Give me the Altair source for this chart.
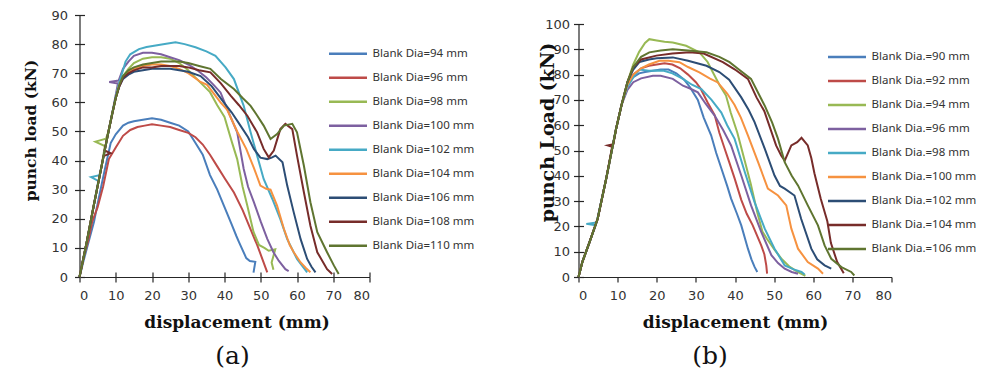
import altair as alt
import pandas as pd

# ---------------- panel (a) ----------------
LABELS_A = ["Blank Dia=94 mm", "Blank Dia=96 mm", "Blank Dia=98 mm", "Blank Dia=100 mm",
            "Blank Dia=102 mm", "Blank Dia=104 mm", "Blank Dia=106 mm", "Blank Dia=108 mm",
            "Blank Dia=110 mm"]
COLORS = ["#4A7EBB", "#BE4B48", "#98B954", "#7D60A0", "#46AAC5", "#F69240", "#2C4D75", "#772C2A", "#5F7530"]

A94_X = [0, 1, 2.5, 4, 5.3, 7, 8.6, 10, 12, 13.5, 15, 17.5, 20, 22.5, 25, 27.5, 30, 32, 34, 36, 38, 40, 42, 43.3, 44, 46, 47, 48.5, 48]
A94_Y = [0, 5, 12, 19, 27, 37, 46, 49, 52, 53, 53.5, 54, 54.5, 54, 53, 52, 50, 46, 42, 35, 30, 24, 18, 14, 12, 6.5, 5.5, 5.2, 1.5]
A96_X = [0, 1.2, 2.5, 3.5, 5, 6.5, 8.1, 10, 12, 14, 16, 18, 20, 22.5, 25, 27.5, 30, 32, 34, 36, 38, 40, 42.6, 45, 47, 49, 50.5, 51.8]
A96_Y = [0, 7, 13, 19, 24, 31, 40.5, 44.5, 48.5, 50.5, 51.5, 52, 52.5, 52, 51.5, 50.5, 49.5, 48, 45.5, 42, 38, 34, 29, 23, 17, 11, 6, 1.6]
A98_X = [0, 2, 4, 6, 7, 4.4, 7.3, 8, 9, 10, 11, 12, 13.5, 15, 17.5, 20, 22.5, 25, 27.5, 30, 32, 34, 36, 38, 40, 42, 43.5, 45, 46.3, 48, 49.5, 51, 52.2, 54, 53, 53.5]
A98_Y = [0, 12, 25, 37.5, 45, 46.5, 47.5, 50, 56, 61.5, 66, 69, 71.5, 73.5, 75, 75.5, 75.5, 75, 73.5, 71, 68.5, 66, 63.5, 59, 55, 46.5, 40.5, 31, 24.5, 15.5, 11, 10, 9, 9.5, 5, 2.5]
A100_X = [0, 2, 4, 6, 8, 9, 10.6, 8.2, 10.8, 12, 13.5, 15, 17.5, 20, 22.5, 25, 27.5, 30, 32.5, 35, 37, 38.9, 41, 43.5, 45.3, 46.5, 48.1, 50, 51.8, 53.5, 55, 56.8, 57.7]
A100_Y = [0, 12, 25, 37.5, 50, 56, 66.5, 67, 67.5, 71.5, 74, 76, 77, 77, 76.5, 75.5, 74.5, 73, 71, 68.5, 66, 63.4, 57, 49.7, 37.1, 31, 25.7, 19, 13.1, 8.5, 5.5, 2.7, 2]
A102_X = [0, 2, 4, 5.2, 3.2, 5.5, 6, 8, 9, 10, 11, 12, 12.7, 14, 16.4, 18.5, 21, 23.5, 26.5, 29, 32, 35, 37.5, 40.3, 42.6, 45.3, 47.2, 49, 50.8, 53.2, 55.4, 57.3, 60, 62.8]
A102_Y = [0, 12, 25, 33, 34.3, 35, 37.5, 50, 56, 62, 67, 71, 74, 76.5, 78.3, 79, 79.5, 80, 80.6, 80, 78.9, 77.5, 76, 72, 68, 58.8, 49.7, 41.7, 33.7, 26.8, 19.9, 13, 6.2, 1.6]
A104_X = [0, 2, 4, 6, 8, 10, 11, 12, 13.5, 15, 17.5, 20, 22.5, 25, 27.5, 30, 33.4, 35.2, 38.9, 40.7, 43.5, 46, 48.1, 49.9, 51.5, 52.7, 54.5, 56.4, 58, 59.1, 61, 62.5, 63.7]
A104_Y = [0, 12, 25, 37.5, 50, 61.5, 66, 68.5, 70.5, 71.5, 72.5, 73, 73, 72.5, 71.5, 70, 67, 66, 60, 57.5, 50, 44, 37.5, 31.4, 30.3, 30, 24.5, 16.5, 11, 8.5, 5, 3, 1.6]
A106_X = [0, 2, 4, 6, 8, 10, 11, 12, 13.5, 15, 17.5, 20, 22.5, 25, 27.5, 30, 33.4, 36.5, 39.8, 42, 44.4, 46.5, 48.1, 49.9, 51.8, 53, 54.1, 56, 57.3, 59.1, 61, 62.8, 64, 65.1]
A106_Y = [0, 12, 25, 37.5, 50, 61.5, 65.5, 68, 69.5, 70.5, 71, 71.5, 71.5, 71.5, 71, 70.5, 69, 65.5, 60, 56.5, 52, 48, 44, 41, 40.5, 41, 41.7, 39.4, 31.4, 22.2, 13, 6.2, 3.5, 1.6]
A108_X = [0, 2, 4, 6, 6.6, 8.6, 6.9, 8, 9, 10, 11, 12, 13.5, 15, 17.5, 20, 22.5, 25, 27.5, 30, 33, 36.1, 39, 41.7, 44, 46.3, 49, 50.8, 52.2, 53.6, 55.4, 56.8, 58.7, 60, 61.9, 63.7, 65.6, 68.3, 69.7]
A108_Y = [0, 12, 25, 37.5, 41.5, 42.5, 43.5, 50, 56, 61.5, 65.5, 68.5, 70, 71, 72, 72, 72.5, 72.5, 72.5, 72, 71, 70.3, 66.5, 62.3, 59, 55.4, 49.7, 44, 41.1, 43.4, 50.8, 52.6, 50.8, 41.7, 29.1, 17.6, 8.5, 2.7, 1]
A110_X = [0, 2, 4, 6, 8, 9, 10, 11, 12, 13.5, 15, 17.5, 20, 22.5, 25, 27.5, 30, 33, 36.1, 39, 42.6, 45, 47.2, 49, 50.8, 52.7, 54.5, 56.4, 58.7, 60, 61.9, 63.7, 65.6, 68.3, 70.2, 71.5]
A110_Y = [0, 12, 25, 37.5, 50, 56, 61.5, 66, 69, 71, 72, 73, 73.5, 74, 74, 74, 73.5, 72.5, 71.5, 68, 64.6, 61.5, 58.8, 55.5, 52, 47.4, 49.1, 52, 52.6, 49.7, 38.2, 25.7, 15.4, 8.5, 3.9, 1]

# ---------------- panel (b) ----------------
LABELS_B = ["Blank Dia.=90 mm", "Blank Dia.=92 mm", "Blank Dia.=94 mm", "Blank Dia.=96 mm",
            "Blank Dia.=98 mm", "Blank Dia.=100 mm", "Blank Dia.=102 mm", "Blank Dia.=104 mm",
            "Blank Dia.=106 mm"]

B90_X = [0, 1, 2.8, 4.9, 7.1, 9.6, 11, 12.5, 14, 15.5, 17, 19, 21, 23, 25, 27, 28.5, 30.5, 32, 33.9, 35.2, 36.5, 38, 39, 40.5, 41.6, 43.3, 44.2, 45, 45.7]
B90_Y = [0, 6, 13.7, 23, 39, 58.5, 68, 76, 79, 80.5, 81, 81.5, 82, 82, 80.5, 78, 75, 70, 63, 56, 49, 43, 36, 31, 25, 20.4, 11.2, 7, 4, 2]
B92_X = [0, 1, 2.8, 4.9, 7.1, 9.6, 11, 12.5, 14, 16, 18, 20, 22, 24, 26, 28, 30, 31.2, 33, 34.8, 36, 37.3, 38.5, 39.9, 41.6, 43, 44.5, 46.7, 47.5, 48, 48.2]
B92_Y = [0, 6, 13.7, 23, 39, 58.5, 68, 76, 80, 82.5, 83.5, 84, 84.5, 84, 82.5, 80, 77, 74.5, 69, 64, 57, 51, 45.5, 39, 30.5, 25, 20.5, 12.5, 9, 4.5, 1.3]
B94_X = [0, 1, 2.8, 4.9, 7.1, 9.6, 11, 12.5, 14, 15.5, 17, 18.1, 20, 22, 24.1, 27.5, 30.9, 33, 34.3, 36, 37.7, 38.9, 40.6, 42.3, 44, 45.7, 47, 48.2, 50, 52, 54, 56, 58]
B94_Y = [0, 6, 13.7, 23, 39, 58.5, 68, 77, 84, 89, 92.5, 94, 93.5, 93, 92.7, 91.4, 88.8, 85, 81, 76, 71.7, 65, 57, 47, 37, 25.5, 18, 15, 11, 7, 4, 2, 0.5]
B96_X = [0, 1, 2.8, 4.9, 7.1, 9.6, 11, 12.5, 14, 16, 19, 21, 24.1, 26.7, 28.5, 30.5, 32.5, 34.8, 37, 39, 41.6, 44.1, 46.7, 49.3, 51, 52.7, 54.5, 56.1]
B96_Y = [0, 6, 13.7, 23, 39, 58.5, 68, 74, 77, 78.5, 79.5, 79.5, 78.3, 75.6, 74.5, 73, 68.5, 63.8, 58, 52, 40.1, 28.3, 17.8, 8.6, 5.5, 3.3, 2, 1.3]
B98_X = [0, 1, 2.8, 4.4, 2, 4.6, 7.1, 9.6, 11, 12.5, 14, 15.6, 18, 21.6, 24, 26.7, 29, 31.4, 34, 36.5, 38, 39.9, 42.5, 45, 47.6, 50.1, 52.7, 55, 57, 57.8]
B98_Y = [0, 6, 13.7, 20.5, 21, 21.5, 39, 58.5, 68, 75, 79, 82, 81.5, 81.6, 80.5, 78.3, 76, 74.3, 70, 65, 60, 54.6, 41.5, 29.6, 19.1, 11.2, 4.6, 3, 2, 1]
B100_X = [0, 1, 2.8, 4.9, 7.1, 9.6, 11, 12.5, 14, 16, 18, 20.7, 23, 25.8, 28, 30.9, 33.5, 35.6, 38, 39.9, 41.5, 43.3, 45.9, 48.4, 51, 53.1, 54.4, 56.1, 58.6, 61.2, 62.5]
B100_Y = [0, 6, 13.7, 23, 39, 58.5, 68, 76, 80, 82.5, 84, 85.5, 85.5, 84.9, 83, 80.9, 78.5, 76.9, 72.5, 68, 63, 56, 45.4, 34.9, 32.2, 28.3, 19.1, 11.2, 5.9, 3.3, 1.3]
B102_X = [0, 1, 2.8, 4.9, 7.1, 9.6, 11, 12.5, 14, 15.6, 18, 20, 24.1, 28, 32.7, 36, 38.5, 41.6, 43.5, 45, 47.6, 50.1, 51.5, 52.7, 55.2, 56.9, 59.5, 61, 62.9, 64.6]
B102_Y = [0, 6, 13.7, 23, 39, 58.5, 68, 77, 82, 85, 86, 86.5, 86.8, 85.5, 83.5, 81, 78, 71, 66, 61.2, 50.7, 40.1, 36, 34.9, 32.2, 23, 11.2, 7, 4.6, 3.3]
B104_X = [0, 1, 2.8, 4.9, 7.1, 8.6, 7.5, 8.9, 9.6, 11, 12.5, 14, 16, 19.9, 24, 28.4, 32, 36.9, 40, 43.3, 45.5, 47.5, 50.5, 51.8, 52.7, 54.4, 55.9, 57, 58.6, 59.5, 60.3, 61.9, 63.6, 64.5, 66.1, 67.8]
B104_Y = [0, 6, 13.7, 23, 39, 51.5, 52, 52.5, 58.5, 68, 77, 83, 86, 87.5, 88.3, 88.8, 88.3, 84.9, 82, 78.3, 71, 65.5, 52, 48, 46, 52, 53.3, 55, 52, 47, 41, 31, 22, 13.5, 6, 1.5]
B106_X = [0, 1, 2.8, 4.9, 7.1, 9.6, 11, 12.5, 14, 16, 18.1, 21, 24.1, 28, 32.7, 36, 38.6, 41, 44.1, 46, 47.6, 49.5, 51, 52.7, 54.5, 56.1, 58.6, 61.2, 62.9, 64.6, 67.2, 69.7, 70.5]
B106_Y = [0, 6, 13.7, 23, 39, 58.5, 68, 77, 83, 87, 88.8, 89.5, 90, 89.5, 88.8, 87, 84.9, 82, 78.3, 72.5, 67.7, 61, 54.6, 45.4, 40, 36.2, 28.3, 20.4, 12.5, 7.2, 3.9, 2, 0.6]

X_TICKS = [0, 10, 20, 30, 40, 50, 60, 70, 80]
Y_TICKS_A = [0, 10, 20, 30, 40, 50, 60, 70, 80, 90]
Y_TICKS_B = [0, 10, 20, 30, 40, 50, 60, 70, 80, 90, 100]


def frame(labels, xs, ys):
    rows = []
    for lab, xv, yv in zip(labels, xs, ys):
        for i, (a, b) in enumerate(zip(xv, yv)):
            rows.append({"series": lab, "i": i, "x": a, "y": b})
    return pd.DataFrame(rows)


df_a = frame(LABELS_A,
             [A94_X, A96_X, A98_X, A100_X, A102_X, A104_X, A106_X, A108_X, A110_X],
             [A94_Y, A96_Y, A98_Y, A100_Y, A102_Y, A104_Y, A106_Y, A108_Y, A110_Y])
df_b = frame(LABELS_B,
             [B90_X, B92_X, B94_X, B96_X, B98_X, B100_X, B102_X, B104_X, B106_X],
             [B90_Y, B92_Y, B94_Y, B96_Y, B98_Y, B100_Y, B102_Y, B104_Y, B106_Y])

W, H = 290, 262
AX = "#262626"
base_axis = dict(domainColor=AX, domainWidth=1.2, tickColor=AX, tickWidth=1.2, tickSize=5,
                 labelFont="DejaVu Sans", labelFontSize=13, labelColor="#333333",
                 titleFont="DejaVu Serif", titleFontWeight="bold", titleColor="#111111",
                 grid=True, gridColor=AX, gridWidth=1.2)
# short inner halves of the "cross" ticks, drawn as the visible end of each grid line
x_axis = dict(base_axis, titleFontSize=17, gridDash=[0, H - 5, 5, 3000])
y_axis = dict(base_axis, gridDash=[5, 3000])

legend_style = dict(orient="none", title=None, symbolType="stroke", symbolSize=1444,
                    symbolStrokeWidth=2.5, labelFont="Noto Sans", labelFontSize=11.5,
                    labelColor="#333333", labelLimit=0, labelOffset=4, rowPadding=0)

chart_a = alt.Chart(df_a).mark_line(strokeWidth=2).encode(
    x=alt.X("x:Q", scale=alt.Scale(domain=[0, 80], nice=False),
            axis=alt.Axis(values=X_TICKS, title="displacement (mm)", labelPadding=7,
                          titlePadding=12, titleX=157, **x_axis)),
    y=alt.Y("y:Q", scale=alt.Scale(domain=[0, 90], nice=False),
            axis=alt.Axis(values=Y_TICKS_A, title="punch load (kN)", labelPadding=7,
                          titleAngle=-90, titleX=-49, titleY=115, titleAlign="center",
                          titleBaseline="middle", titleFontSize=15.5, **y_axis)),
    color=alt.Color("series:N", scale=alt.Scale(domain=LABELS_A, range=COLORS),
                    legend=alt.Legend(legendX=248, legendY=27, clipHeight=23.6, **legend_style)),
    order=alt.Order("i:Q"),
).properties(width=W, height=H,
             title=alt.TitleParams("(a)", orient="bottom", frame="group", anchor="middle", dx=8,
                                   offset=14, font="DejaVu Serif", fontSize=25, fontWeight="normal",
                                   color="#111111"))

chart_b = alt.Chart(df_b).mark_line(strokeWidth=2).encode(
    x=alt.X("x:Q", scale=alt.Scale(domain=[0, 80], nice=False),
            axis=alt.Axis(values=X_TICKS, title="displacement (mm)", labelPadding=7,
                          titlePadding=12, **x_axis)),
    y=alt.Y("y:Q", scale=alt.Scale(domain=[0, 100], nice=False, range=[H, 9]),
            axis=alt.Axis(values=Y_TICKS_B, title="punch Load (kN)", labelPadding=4,
                          titleAngle=-90, titleX=-31, titleY=117, titleAlign="center",
                          titleBaseline="middle", titleFontSize=19, **y_axis)),
    color=alt.Color("series:N", scale=alt.Scale(domain=LABELS_B, range=COLORS),
                    legend=alt.Legend(legendX=248, legendY=30, clipHeight=24, **legend_style)),
    order=alt.Order("i:Q"),
).properties(width=313, height=H,
             title=alt.TitleParams("(b)", orient="bottom", frame="group", anchor="middle", dx=-25,
                                   offset=14, font="DejaVu Serif", fontSize=25, fontWeight="normal",
                                   color="#111111"))

chart = alt.hconcat(chart_a, chart_b, spacing=63).resolve_scale(color="independent").configure(
    padding={"left": 14.5, "top": 1, "right": 0, "bottom": 0}
).configure_view(stroke=None)

chart.save("out.html", embed_options={"renderer": "svg", "actions": False})
